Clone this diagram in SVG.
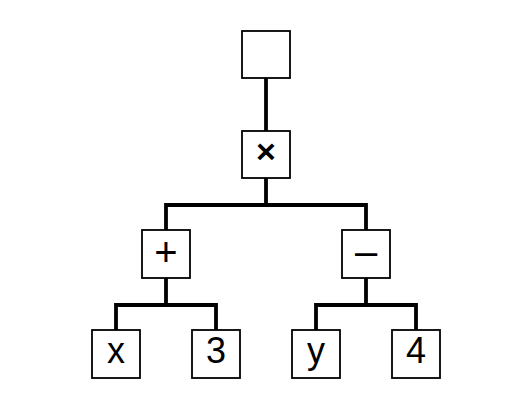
<svg xmlns="http://www.w3.org/2000/svg" width="520" height="409" viewBox="0 0 520 409">
<style>
.box{fill:#fff;stroke:#000;stroke-width:1.8}
.conn{fill:none;stroke:#000;stroke-width:3.8;stroke-linejoin:miter;stroke-linecap:butt}
.t{font-family:"Liberation Sans",Arial,sans-serif;font-size:36px;text-anchor:middle;fill:#000}
.op{font-weight:bold;font-size:34px}
.op2{font-size:40px}
</style>
<rect width="520" height="409" fill="#fff"/>
<g id="connectors">
<path class="conn" d="M266,78 V131"/>
<path class="conn" d="M266,178 V205 M166,230 V205 H366 V230"/>
<path class="conn" d="M166,278 V305 M116,330 V305 H216 V330"/>
<path class="conn" d="M366,278 V305 M316,330 V305 H416 V330"/>
</g>
<g id="root"><rect class="box" x="242" y="31" width="48" height="47"/></g>
<g id="times"><rect class="box" x="242" y="131" width="48" height="47"/><text class="t op" x="266" y="163">×</text></g>
<g id="plus"><rect class="box" x="142" y="230" width="48" height="48"/><text class="t op2" x="166" y="266">+</text></g>
<g id="minus"><rect class="box" x="342" y="230" width="48" height="48"/><text class="t op2" x="366" y="265">–</text></g>
<g id="x"><rect class="box" x="92" y="330" width="48" height="48"/><text class="t" x="116" y="363">x</text></g>
<g id="three"><rect class="box" x="192" y="330" width="48" height="48"/><text class="t" x="216" y="363">3</text></g>
<g id="y"><rect class="box" x="292" y="330" width="48" height="48"/><text class="t" x="316" y="363">y</text></g>
<g id="four"><rect class="box" x="392" y="330" width="48" height="48"/><text class="t" x="416" y="363">4</text></g>
</svg>
